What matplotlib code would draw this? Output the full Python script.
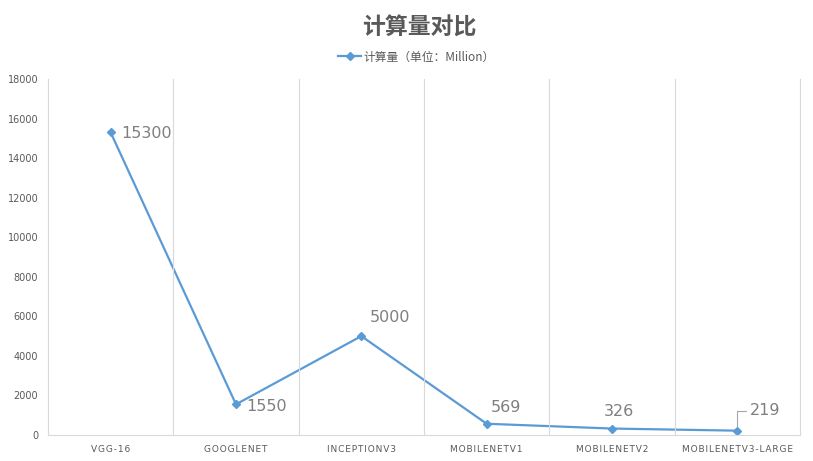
from matplotlib import pyplot as plt

plt.rcParams['font.family'] = ['Noto Sans CJK SC', 'DejaVu Sans']

models = ["VGG-16", "GOOGLENET", "INCEPTIONV3", "MOBILENETV1", "MOBILENETV2", "MOBILENETV3-LARGE"]
flops = [15300, 1550, 5000, 569, 326, 219]
# label offsets in pixels (dx, dy)
offsets = [(10, -1), (10, -2), (8, 18), (4, 16), (-8, 16), (12, 19)]

fig = plt.figure(figsize=(8.13, 4.61), dpi=100)
ax = fig.add_axes([0.059, 0.0564, 0.925, 0.7722])

x = list(range(len(models)))
ax.plot(x, flops, color='#5B9BD5', lw=1.6, marker='D', ms=4.5,
        label="计算量（单位：Million）")

ax.set_xlim(-0.5, len(models) - 0.5)
ax.set_ylim(0, 18000)
ax.set_yticks(range(0, 18001, 2000))
ax.set_xticks(x)
spaced = ["\u200a".join(m) for m in models]
ax.set_xticklabels(spaced, fontsize=6.5, color='#595959', family='DejaVu Sans')
ax.tick_params(axis='y', labelsize=7, colors='#595959', length=0, pad=7)
ax.tick_params(axis='x', length=0, pad=7)
for lab in ax.get_yticklabels():
    lab.set_family('DejaVu Sans')

for b in [i + 0.5 for i in x[:-1]]:
    ax.axvline(b, color='#D9D9D9', lw=0.8)
ax.spines['top'].set_visible(False)
for s in ['left', 'right', 'bottom']:
    ax.spines[s].set_color('#D9D9D9')
    ax.spines[s].set_linewidth(0.8)

for i, (v, off) in enumerate(zip(flops, offsets)):
    kw = dict(textcoords='offset points', fontsize=11.5, color='#7F7F7F',
              family='DejaVu Sans', ha='left', va='center')
    if i == 5:
        kw['arrowprops'] = dict(arrowstyle='-', color='#A6A6A6', lw=0.8,
                                connectionstyle='angle,angleA=0,angleB=90,rad=0',
                                shrinkA=1, shrinkB=3)
    ax.annotate(str(v), (i, v), xytext=(off[0] * 0.75, off[1] * 0.75), **kw)

fig.text(0.516, 0.939, "计算量对比", ha='center', va='center', fontsize=16.5,
         fontweight='bold', color='#595959')
ax.legend(loc='center', bbox_to_anchor=(0.49, 1.062), frameon=False,
          fontsize=8.5, labelcolor='#595959', handlelength=2.0, handletextpad=0.2)

fig.savefig("out.png", dpi=100)
